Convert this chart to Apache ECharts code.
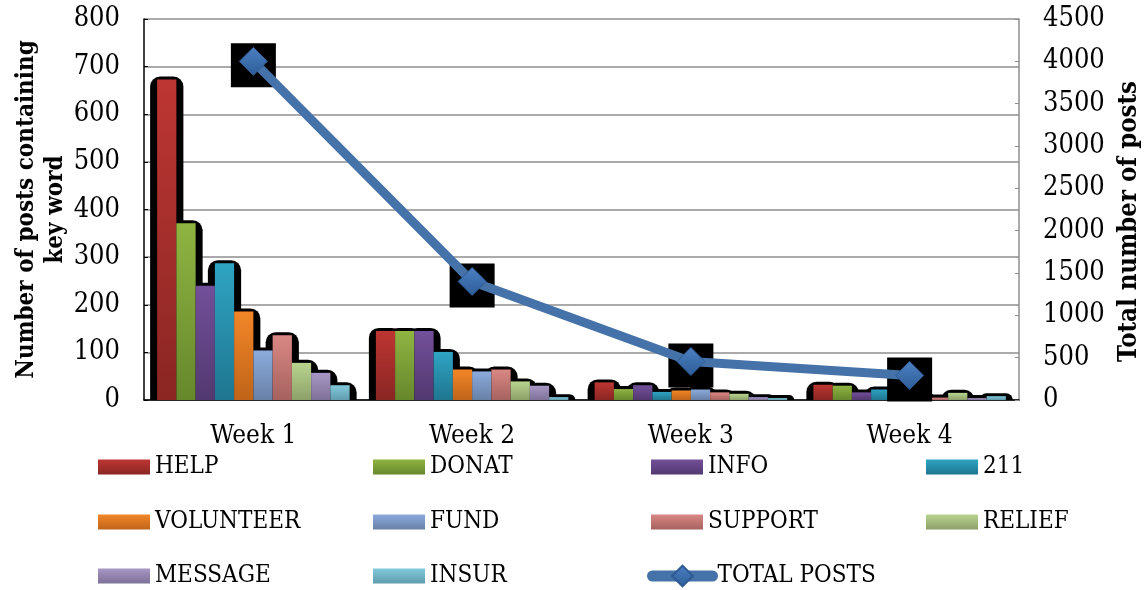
<!DOCTYPE html>
<html>
<head>
<meta charset="utf-8">
<script src="https://cdn.jsdelivr.net/npm/echarts@6/dist/echarts.min.js"></script>
<style>
  html, body { margin: 0; padding: 0; background: #fff; }
  #chart { width: 1147px; height: 590px; }
</style>
</head>
<body>
<div id="chart"></div>
<script>
// Weekly counts of posts containing each key word, plus total posts per week
const categories = ['Week 1', 'Week 2', 'Week 3', 'Week 4'];
const seriesNames = ['HELP', 'DONAT', 'INFO', '211', 'VOLUNTEER', 'FUND', 'SUPPORT', 'RELIEF', 'MESSAGE', 'INSUR'];

const help      = [673, 145, 37, 32];
const donat     = [371, 145, 23, 30];
const info      = [240, 145, 31, 16];
const n211      = [287, 101, 17, 22];
const volunteer = [186, 64, 20, 10];
const fund      = [104, 60, 22, 8];
const support   = [136, 64, 16, 5];
const relief    = [78, 39, 13, 15];
const message   = [57, 30, 6, 4];
const insur     = [31, 6, 4, 8];
const totalPosts = [4000, 1400, 455, 290];

const leftTicks = { min: 0, max: 800, interval: 100 };
const rightTicks = { min: 0, max: 4500, interval: 500 };

const keywordValues = [help, donat, info, n211, volunteer, fund, support, relief, message, insur];

// top / bottom gradient stops per key word
const barColors = [
  ['#bd3633', '#8a2623'],
  ['#8fb441', '#67872c'],
  ['#73509a', '#523870'],
  ['#2fa4c3', '#1f7690'],
  ['#f28628', '#bf6419'],
  ['#8babdc', '#6880a6'],
  ['#d98884', '#a6625f'],
  ['#b9d48f', '#8ca068'],
  ['#a797c4', '#7e7198'],
  ['#82c9dc', '#5f9cad']
];

const FONT = "'DejaVu Serif Condensed', 'DejaVu Serif', serif";
const CAT_GAP = 0.12;

function grad(c) {
  return new echarts.graphic.LinearGradient(0, 0, 0, 1, [
    { offset: 0, color: c[0] },
    { offset: 1, color: c[1] }
  ]);
}

const barSeries = keywordValues.map((vals, i) => ({
  name: seriesNames[i],
  type: 'bar',
  data: vals,
  z: 3,
  barGap: '0%',
  barCategoryGap: (CAT_GAP * 100) + '%',
  itemStyle: { color: grad(barColors[i]) }
}));

// dark halo drawn behind every bar, placed with the same band layout as the bars
const haloData = [];
keywordValues.forEach((vals, s) => vals.forEach((v, c) => haloData.push([c, s, v])));

const haloSeries = {
  type: 'custom',
  name: 'halo',
  data: haloData,
  encode: { x: 0, y: 2 },
  z: 1,
  silent: true,
  renderItem: function (params, api) {
    const c = api.value(0), s = api.value(1), v = api.value(2);
    const top = api.coord([c, v]);
    const base = api.coord([c, 0]);
    const band = api.size([1, 0])[0];
    const total = band * (1 - CAT_GAP);
    const bw = total / seriesNames.length;
    const x0 = top[0] - total / 2 + s * bw;
    return {
      type: 'rect',
      shape: { x: x0 - 7, y: top[1] - 3, width: bw + 14, height: base[1] - top[1] + 3, r: [10, 10, 0, 0] },
      style: { fill: '#000' }
    };
  }
};

const markerShadow = {
  type: 'scatter',
  name: 'marker shadow',
  yAxisIndex: 1,
  data: totalPosts,
  symbol: 'rect',
  symbolSize: [45, 44],
  symbolOffset: [0, 4],
  itemStyle: { color: '#000', opacity: 1 },
  z: 4,
  silent: true
};

const totalLine = {
  name: 'TOTAL POSTS',
  type: 'line',
  yAxisIndex: 1,
  data: totalPosts,
  z: 5,
  symbol: 'diamond',
  symbolSize: 28,
  lineStyle: { color: '#4572a8', width: 9 },
  itemStyle: {
    color: new echarts.graphic.LinearGradient(0, 0, 0, 1, [
      { offset: 0, color: '#4b80c2' },
      { offset: 1, color: '#2e5d98' }
    ]),
    borderColor: '#2d5a92',
    borderWidth: 1
  }
};

// legend grid: 4 columns x 3 rows
const legendCols = [98, 373, 651, 926];
const legendRows = [455, 510, 564];
const legendLayout = [
  ['HELP', 0, 0], ['DONAT', 1, 0], ['INFO', 2, 0], ['211', 3, 0],
  ['VOLUNTEER', 0, 1], ['FUND', 1, 1], ['SUPPORT', 2, 1], ['RELIEF', 3, 1],
  ['MESSAGE', 0, 2], ['INSUR', 1, 2], ['TOTAL POSTS', 2, 2]
];

const legends = legendLayout.map(([name, col, row]) => {
  const isLine = name === 'TOTAL POSTS';
  return {
    left: legendCols[col] - (isLine ? 4 : 0),
    top: legendRows[row],
    padding: 0,
    orient: 'horizontal',
    itemWidth: isLine ? 60 : 52,
    itemHeight: isLine ? 26 : 15,
    itemGap: 0,
    icon: isLine ? undefined : 'rect',
    data: [name],
    lineStyle: isLine ? { width: 11, cap: 'round', color: '#4572a8' } : undefined,
    textStyle: { fontFamily: FONT, fontSize: 24, color: '#000', lineHeight: 24, padding: [0, 0, 0, 0] }
  };
});

const option = {
  animation: false,
  backgroundColor: '#fff',
  textStyle: { fontFamily: FONT },
  grid: { left: 144, right: 128, top: 19, bottom: 190, outerBoundsMode: 'none', containLabel: false },
  legend: legends,
  xAxis: {
    type: 'category',
    data: categories,
    axisLine: { lineStyle: { color: '#000', width: 1.5 } },
    axisTick: { show: false },
    axisLabel: { fontFamily: FONT, fontSize: 26, color: '#000', margin: 23 }
  },
  yAxis: [
    {
      type: 'value',
      min: leftTicks.min, max: leftTicks.max, interval: leftTicks.interval,
      name: 'Number of posts containing\nkey word',
      nameLocation: 'middle',
      nameRotate: 90,
      nameGap: 74,
      nameMoveOverlap: false,
      nameTextStyle: { fontFamily: FONT, fontWeight: 'bold', fontSize: 24, lineHeight: 29, color: '#000' },
      axisLine: { show: true, lineStyle: { color: '#000', width: 1.5 } },
      axisTick: { show: true, inside: true, length: 4, lineStyle: { color: '#000' } },
      axisLabel: { fontFamily: FONT, fontSize: 27, color: '#000', margin: 24, formatter: v => String(v) },
      splitLine: { lineStyle: { color: '#8e8e8e', width: 1.5 } }
    },
    {
      type: 'value',
      position: 'right',
      min: rightTicks.min, max: rightTicks.max, interval: rightTicks.interval,
      name: 'Total number of posts',
      nameLocation: 'middle',
      nameRotate: 90,
      nameGap: 97,
      nameMoveOverlap: false,
      nameTextStyle: { fontFamily: FONT, fontWeight: 'bold', fontSize: 25.5, color: '#000', padding: [0, 24, 0, 0] },
      axisLine: { show: true, lineStyle: { color: '#8e8e8e', width: 1.5 } },
      axisTick: { show: true, inside: true, length: 4, lineStyle: { color: '#8e8e8e' } },
      axisLabel: { fontFamily: FONT, fontSize: 27, color: '#000', margin: 24, formatter: v => String(v) },
      splitLine: { show: false }
    }
  ],
  series: [haloSeries].concat(barSeries, [markerShadow, totalLine])
};

const chart = echarts.init(document.getElementById('chart'), null, { renderer: 'canvas' });
chart.setOption(option);
</script>
</body>
</html>
